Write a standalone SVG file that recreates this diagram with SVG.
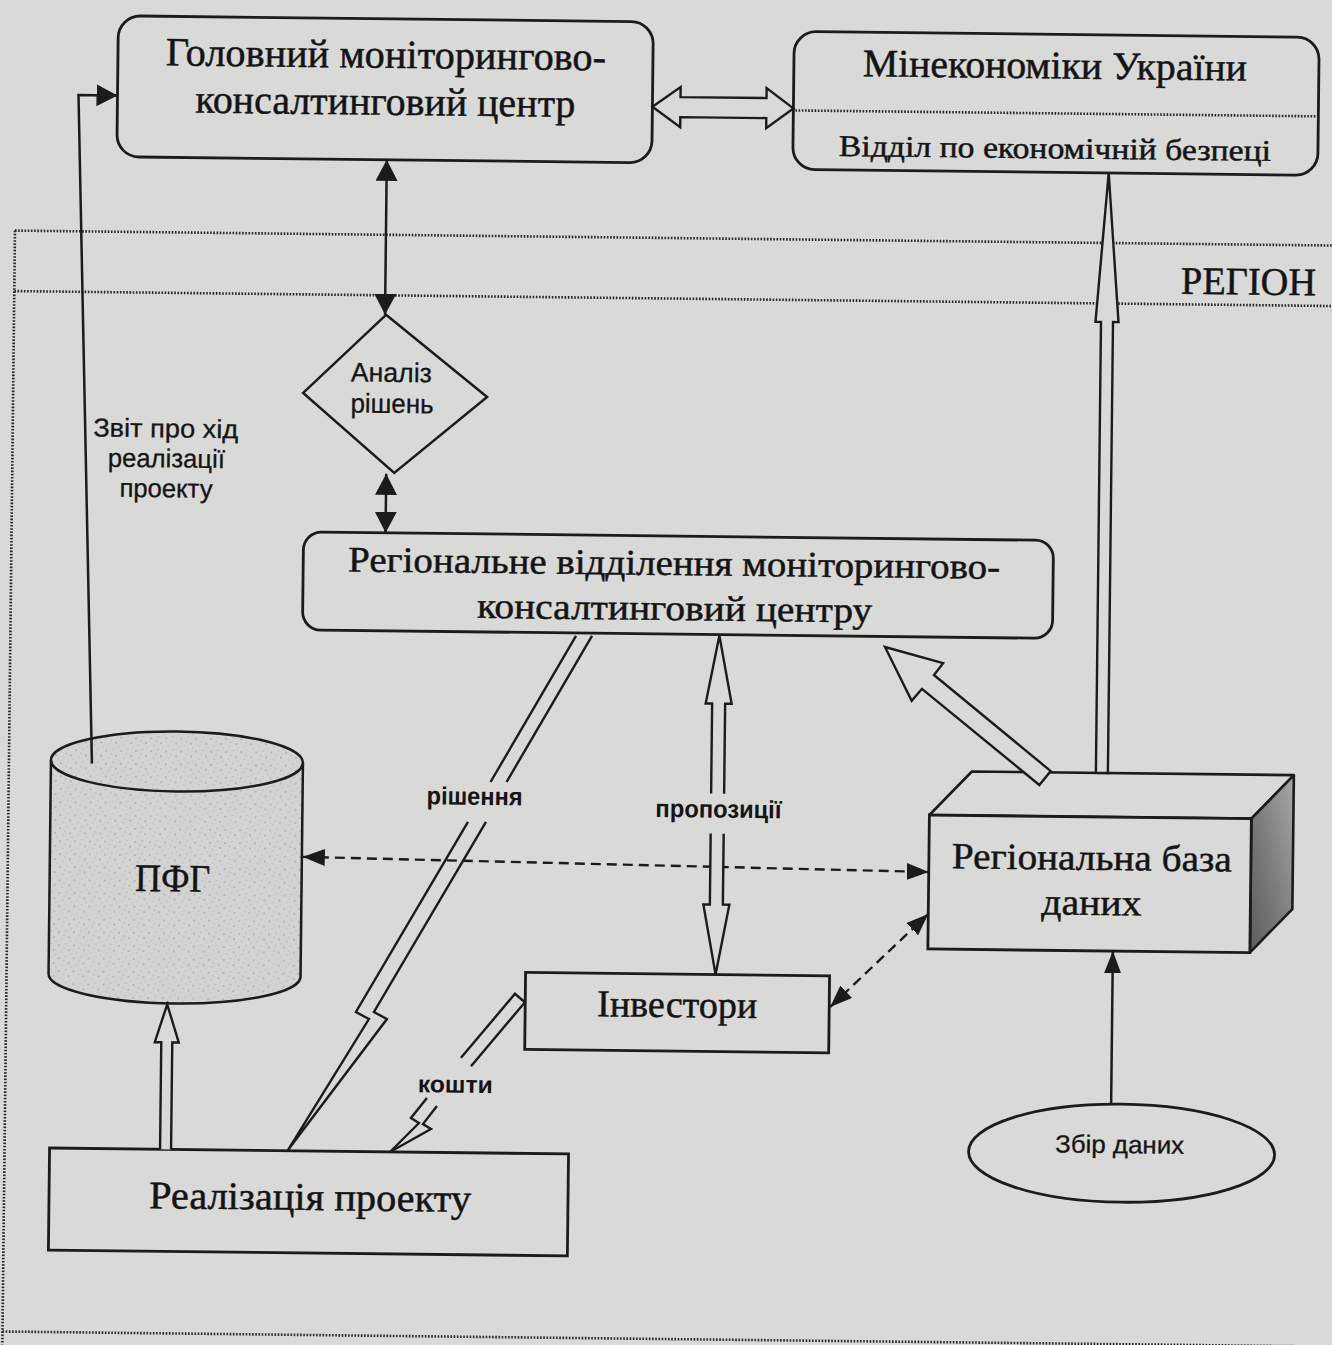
<svg xmlns="http://www.w3.org/2000/svg" width="1332" height="1345" viewBox="0 0 1332 1345">
<style>
.ln{stroke:#1b1b1b;stroke-width:2.5;fill:none}
.bx{fill:#d9d9d7;stroke:#1b1b1b;stroke-width:2.8}
.dot{stroke:#262626;stroke-width:2.6;stroke-dasharray:1.6 1.6;fill:none}
.dash{stroke:#1b1b1b;stroke-width:2.4;stroke-dasharray:10 6;fill:none}
.hol{fill:#d9d9d7;stroke:#1b1b1b;stroke-width:2.4;stroke-linejoin:miter}
.bolt{fill:none;stroke:#1b1b1b;stroke-width:2.4;stroke-linejoin:miter}
.sf{font-family:"Liberation Serif","Times New Roman",serif;fill:#141414;stroke:#141414;stroke-width:0.5;text-anchor:middle}
.ss{font-family:"Liberation Sans Narrow","Liberation Sans",Arial,sans-serif;fill:#141414;stroke:#141414;stroke-width:0.3;text-anchor:middle}
.sb{font-weight:bold;stroke-width:0}
</style>
<defs>
<marker id="ah" viewBox="0 0 21 22" refX="21" refY="11" markerWidth="21" markerHeight="22" markerUnits="userSpaceOnUse" orient="auto-start-reverse"><path d="M0,0 L21,11 L0,22 Z" fill="#1b1b1b"/></marker>
<marker id="as" viewBox="0 0 22 17" refX="22" refY="8.5" markerWidth="22" markerHeight="17" markerUnits="userSpaceOnUse" orient="auto-start-reverse"><path d="M0,0 L22,8.5 L0,17 Z" fill="#1b1b1b"/></marker>
<pattern id="speck" width="15" height="13" patternUnits="userSpaceOnUse">
<circle cx="2" cy="3" r="0.8" fill="#7d7d7b"/><circle cx="9" cy="1.5" r="0.6" fill="#8a8a88"/><circle cx="12" cy="8" r="0.8" fill="#7d7d7b"/><circle cx="5" cy="10" r="0.6" fill="#8a8a88"/><circle cx="7" cy="6" r="0.5" fill="#6f6f6d"/><circle cx="14" cy="12" r="0.5" fill="#8a8a88"/>
</pattern>
<linearGradient id="side" x1="0" y1="1" x2="1" y2="0"><stop offset="0" stop-color="#5c5c5a"/><stop offset="0.5" stop-color="#7e7e7c"/><stop offset="1" stop-color="#a8a8a6"/></linearGradient>
</defs>
<rect x="0" y="0" width="1332" height="1345" fill="#d9d9d7"/>
<g transform="rotate(0.65 666 672)">
<g id="frame">
<line class="dot" x1="10" y1="238" x2="1345" y2="238"/>
<line class="dot" x1="10" y1="298.5" x2="1345" y2="298.5"/>
<line class="dot" x1="10" y1="238" x2="10" y2="1352"/>
<line class="dot" x1="10" y1="1339" x2="1345" y2="1339"/>
<text class="sf" x="1244" y="288" font-size="39" textLength="135" lengthAdjust="spacingAndGlyphs">РЕГІОН</text>
</g>
<g id="n-main">
<rect class="bx" x="111" y="22" width="535" height="141" rx="22"/>
<text class="sf" x="379" y="71" font-size="40" textLength="440" lengthAdjust="spacingAndGlyphs">Головний моніторингово-</text>
<text class="sf" x="379" y="118" font-size="40" textLength="380" lengthAdjust="spacingAndGlyphs">консалтинговий центр</text>
</g>
<g id="n-minecon">
<rect class="bx" x="787" y="30" width="525" height="138" rx="22"/>
<line class="dot" x1="789" y1="109" x2="1311" y2="109"/>
<text class="sf" x="1048" y="74" font-size="39" textLength="384" lengthAdjust="spacingAndGlyphs">Мінекономіки України</text>
<text class="sf" x="1049" y="154" font-size="30" textLength="432" lengthAdjust="spacingAndGlyphs">Відділ по економічній безпеці</text>
</g>
<g id="n-analysis">
<polygon points="382,318 484,399 392,476 300,397" fill="#d9d9d7" stroke="#1b1b1b" stroke-width="2.5"/>
<text class="ss" x="388" y="385" font-size="27" textLength="81" lengthAdjust="spacingAndGlyphs">Аналіз</text>
<text class="ss" x="389" y="416" font-size="27" textLength="83" lengthAdjust="spacingAndGlyphs">рішень</text>
</g>
<g id="n-regional">
<rect class="bx" x="302" y="536" width="750" height="98" rx="18"/>
<text class="sf" x="673" y="575" font-size="36" textLength="652" lengthAdjust="spacingAndGlyphs">Регіональне відділення моніторингово-</text>
<text class="sf" x="674" y="620" font-size="36" textLength="395" lengthAdjust="spacingAndGlyphs">консалтинговий центру</text>
</g>
<g id="n-pfg">
<path d="M52,767 L52,981 A126,28 0 0 0 304,981 L304,767 A126,30 0 0 0 52,767 Z" fill="#d3d3d1"/>
<path d="M52,767 L52,981 A126,28 0 0 0 304,981 L304,767 A126,30 0 0 0 52,767 Z" fill="url(#speck)" opacity="0.75"/>
<path d="M52,767 L52,981 A126,28 0 0 0 304,981 L304,767" class="ln" stroke-width="2.8"/>
<ellipse cx="178" cy="767" rx="126" ry="30" class="ln" stroke-width="2.8"/>
<text class="sf" x="175" y="897" font-size="39" textLength="75" lengthAdjust="spacingAndGlyphs">ПФГ</text>
</g>
<g id="n-realization">
<rect class="bx" x="55" y="1155" width="519" height="102"/>
<text class="sf" x="316" y="1214" font-size="39" textLength="322" lengthAdjust="spacingAndGlyphs">Реалізація проекту</text>
</g>
<g id="n-investors">
<rect class="bx" x="529" y="974" width="304" height="77"/>
<text class="sf" x="681" y="1017" font-size="38" textLength="160" lengthAdjust="spacingAndGlyphs">Інвестори</text>
</g>
<g id="n-db">
<polygon points="931,812 973,768 1295,768 1253,812" fill="#d9d9d7" stroke="#1b1b1b" stroke-width="2.6" stroke-linejoin="round"/>
<polygon points="1253,812 1295,768 1295,902 1253,946" fill="url(#side)" stroke="#1b1b1b" stroke-width="2.6" stroke-linejoin="round"/>
<rect class="bx" x="931" y="812" width="322" height="134"/>
<text class="sf" x="1094" y="865" font-size="37" textLength="280" lengthAdjust="spacingAndGlyphs">Регіональна база</text>
<text class="sf" x="1094" y="910" font-size="37" textLength="100" lengthAdjust="spacingAndGlyphs">даних</text>
</g>
<g id="n-collect">
<ellipse cx="1127" cy="1148" rx="153" ry="49" class="bx"/>
<text class="ss" x="1125" y="1148" font-size="25" textLength="129" lengthAdjust="spacingAndGlyphs">Збір даних</text>
</g>
<g id="connectors">
<polyline class="ln" points="93,770 72,101.7 90,101.7"/>
<line class="ln" x1="89" y1="101.7" x2="111" y2="101.7" marker-end="url(#ah)"/>
<text class="ss" x="163" y="443" font-size="26" textLength="145" lengthAdjust="spacingAndGlyphs">Звіт про хід</text>
<text class="ss" x="164" y="473" font-size="26" textLength="117" lengthAdjust="spacingAndGlyphs">реалізації</text>
<text class="ss" x="164" y="503" font-size="26" textLength="93" lengthAdjust="spacingAndGlyphs">проекту</text>
<polygon class="hol" points="646,107 674,87 674,97 760,97 760,87 787,107 760,127 760,117 674,117 674,127"/>
<line class="ln" x1="381" y1="163" x2="381" y2="318" marker-start="url(#ah)" marker-end="url(#ah)"/>
<line class="ln" x1="384" y1="477" x2="384" y2="536" marker-start="url(#ah)" marker-end="url(#ah)"/>
<line class="dash" x1="305" y1="861" x2="931" y2="869" marker-start="url(#as)" marker-end="url(#as)"/>
<line class="dash" x1="834" y1="1005" x2="931" y2="911" marker-start="url(#as)" marker-end="url(#as)"/>
<line class="ln" x1="1116" y1="1099" x2="1116" y2="946" marker-end="url(#as)"/>
<path class="hol" d="M1097,768 L1097,317 L1091.5,317 L1103,168 L1114.5,317 L1109,317 L1109,768 Z"/>
<polygon class="hol" points="884.7,644.5 943,660 934,671.9 1051.8,766.7 1040.6,780.7 922.1,685.9 912,698"/>
<path class="hol" d="M712.5,793 L712.5,703 L706,703 L719,635 L732,703 L725.5,703 L725.5,793"/>
<path class="hol" d="M712.5,833 L712.5,904 L706,904 L719,974 L732,904 L725.5,904 L725.5,833"/>
<text class="ss sb" x="720" y="817" font-size="25" textLength="126" lengthAdjust="spacingAndGlyphs">пропозиції</text>
<path class="bolt" d="M491.8,784 L575.6,637 M591.6,636.8 L507.8,783.8"/>
<path class="bolt" d="M469.7,824.2 L359.8,1015.5 L372.9,1022.4 L293.4,1154.3 L390.9,1022.2 L377.8,1015.3 L487.7,824"/>
<text class="ss sb" x="476" y="807" font-size="25" textLength="96" lengthAdjust="spacingAndGlyphs">рішення</text>
<path class="bolt" d="M465.4,1060.1 L518.6,995.5 L528.7,1003.8 L475.5,1068.4"/>
<path class="bolt" d="M431.8,1100.7 L416,1120.9 L424.1,1125.8 L395.4,1155.1 L436.2,1131.6 L428.1,1126.8 L441.9,1108.6"/>
<text class="ss sb" x="460" y="1095" font-size="24" textLength="75" lengthAdjust="spacingAndGlyphs">кошти</text>
<path class="hol" d="M165.5,1155 L165.5,1048 L159,1048 L171,1010 L183,1048 L176.5,1048 L176.5,1155"/>
</g>
</g>
</svg>
